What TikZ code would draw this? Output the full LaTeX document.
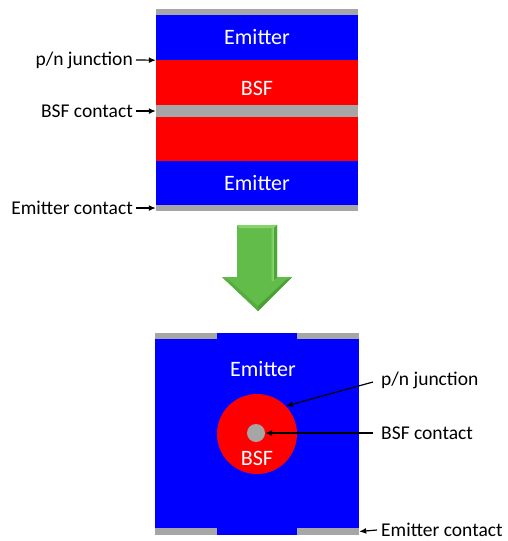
\documentclass[tikz,border=0pt]{standalone}
\usepackage{fontspec}
\setmainfont{Carlito}
\usetikzlibrary{arrows.meta}

\definecolor{emblue}{RGB}{0,0,255}
\definecolor{bsfred}{RGB}{255,0,0}
\definecolor{metal}{RGB}{166,166,166}
\definecolor{arrgreen}{RGB}{98,188,74}
\definecolor{arrlight}{RGB}{150,222,120}
\definecolor{arrdark}{RGB}{62,150,44}

\begin{document}
\begin{tikzpicture}[
  x=1pt,y=-1pt,
  layer/.style={inner sep=0pt,minimum width=202pt,text=white,font=\fontsize{22}{26}\selectfont},
  contact/.style={fill=metal,inner sep=0pt,minimum height=6pt},
  lbl/.style={inner sep=0pt,font=\fontsize{19.5}{23}\selectfont},
  ptr/.style={-{Latex[length=7pt,width=6pt]},line width=1.2pt}
]
\useasboundingbox (0,0) rectangle (507,541);

% layered stack
\node[contact,minimum width=202pt] (topc) at (257,12) {};
\node[layer,fill=emblue,minimum height=45pt] (em1) at (257,37.5) {Emitter};
\node[layer,fill=bsfred,minimum height=45pt] (bsf1) at (257,82.5) {};
\node[layer,fill=metal,minimum height=12pt] (bsfc) at (257,111) {};
\node[layer,fill=bsfred,minimum height=44pt] (bsf2) at (257,139) {};
\node[layer,fill=emblue,minimum height=44pt] (em2) at (257,183) {Emitter};
\node[contact,minimum width=202pt] (botc) at (257,208) {};
\node[text=white,font=\fontsize{22}{26}\selectfont] (bsft1) at (257,88) {BSF};

\node[lbl,anchor=east] (pn1) at (133,60) {p/n junction};
\node[lbl,anchor=east] (bc1) at (133,111) {BSF contact};
\node[lbl,anchor=east] (ec1) at (133,208) {Emitter contact};
\draw[ptr] (pn1.east) ++(3,0) -- (em1.south west);
\draw[ptr] (bc1.east) ++(3,0) -- (bsfc.west);
\draw[ptr] (ec1.east) ++(3,0) -- (botc.west);

% green arrow with a soft bevel
\fill[arrgreen]
  (237,225) -- (277,225) -- (277,277) -- (292,277) -- (258,311)
  -- (222,277) -- (237,277) -- cycle;
\fill[arrlight!70!arrgreen] (237,225) -- (277,225) -- (274,228) -- (240,228) -- cycle;
\shade[left color=arrgreen,right color=arrlight] (270,228) -- (274,228) -- (274,280) -- (270,280) -- cycle;
\fill[arrdark!60!arrgreen] (274,228) -- (277,225) -- (277,277) -- (274,280) -- cycle;
\fill[arrdark!70!arrgreen] (292,277) -- (258,311) -- (258,306) -- (286,280) -- cycle;
\fill[arrdark!40!arrgreen] (222,277) -- (258,311) -- (258,306) -- (229,280) -- cycle;

% point contact cell
\node[fill=emblue,inner sep=0pt,minimum width=204pt,minimum height=202pt] (cell) at (257,434) {};
\node[contact,minimum width=62pt] (tl) at (186,336) {};
\node[contact,minimum width=62pt] (tr) at (328,336) {};
\node[contact,minimum width=62pt,minimum height=7pt] (bl) at (186,531.5) {};
\node[contact,minimum width=62pt,minimum height=7pt] (br) at (328,531.5) {};
\node[circle,fill=bsfred,inner sep=0pt,minimum size=80pt] (bsfc2) at (257,434) {};
\node[circle,fill=metal,inner sep=0pt,minimum size=18pt] (dot) at (256,433) {};
\node[text=white,font=\fontsize{22}{26}\selectfont] (emt2) at (263,369) {Emitter};
\node[text=white,font=\fontsize{22}{26}\selectfont] (bsft2) at (257,458) {BSF};

\node[lbl,anchor=west] (pn2) at (381,380) {p/n junction};
\node[lbl,anchor=west] (bc2) at (381,433) {BSF contact};
\node[lbl,anchor=west] (ec2) at (381,530) {Emitter contact};
\draw[ptr] (pn2.west) ++(-8,2) -- (bsfc2.44);
\draw[ptr] (bc2.west) ++(-8,0) -- (dot.east);
\draw[ptr] (ec2.west) ++(-4,0) -- (br.east);
\end{tikzpicture}
\end{document}
